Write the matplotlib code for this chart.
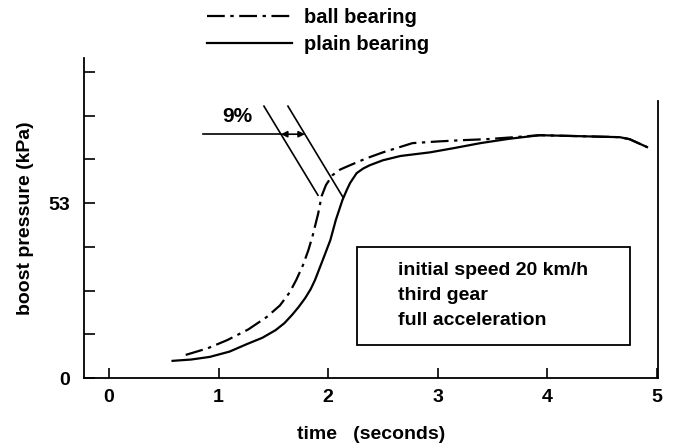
import matplotlib
matplotlib.use("Agg")
import matplotlib.pyplot as plt
from matplotlib.patches import Rectangle

plt.rcParams["font.family"] = ["Liberation Sans", "DejaVu Sans"]
plt.rcParams["font.weight"] = "bold"

# plain bearing (solid)
plain_t = [0.58, 0.75, 0.92, 1.10, 1.26, 1.40, 1.52, 1.60, 1.67, 1.73, 1.79, 1.84, 1.88,
           1.95, 2.02, 2.07, 2.13, 2.17, 2.20, 2.26, 2.32, 2.38, 2.50, 2.66, 2.93,
           3.15, 3.39, 3.65, 3.93, 4.30, 4.66, 4.75, 4.91]
plain_p = [5.2, 5.6, 6.4, 8.0, 10.3, 12.2, 14.5, 16.6, 19.1, 21.5, 24.2, 26.9, 29.7,
           35.7, 41.8, 47.9, 53.9, 57.0, 59.1, 62.1, 63.5, 64.5, 66.0, 67.3, 68.4,
           69.7, 71.2, 72.5, 73.6, 73.3, 73.0, 72.4, 70.0]

# ball bearing (dash-dot)
ball_t = [0.70, 0.90, 1.08, 1.27, 1.44, 1.56, 1.65, 1.71, 1.77, 1.82, 1.86, 1.91,
          1.94, 1.98, 2.04, 2.11, 2.20, 2.35, 2.50, 2.77, 3.00, 3.23, 3.45, 3.70,
          3.93, 4.30, 4.66, 4.75, 4.91]
ball_p = [7.0, 9.0, 11.5, 14.7, 18.5, 22.0, 26.0, 29.8, 34.2, 38.8, 43.3, 50.0,
          55.1, 58.5, 61.5, 63.2, 64.5, 66.6, 68.4, 71.2, 71.7, 72.1, 72.4, 73.0,
          73.6, 73.3, 73.0, 72.4, 70.0]

x_ticks = [0, 1, 2, 3, 4, 5]
y_ticks = [0, 13.25, 26.5, 39.75, 53, 66.25, 79.5, 92.75]
y_labels = ["0", "", "", "", "53", "", "", ""]
notes = ["initial speed 20 km/h", "third gear", "full acceleration"]

W, H = 677, 448
fig = plt.figure(figsize=(W / 100, H / 100), dpi=100)
ax = fig.add_axes([84 / W, 1 - 378 / H, (658 - 84) / W, (378 - 58) / H])

ball_line, = ax.plot(ball_t, ball_p, color="black", lw=1.6,
                     linestyle=(0, (8, 2.5, 1.5, 2.5)), label="ball bearing")
plain_line, = ax.plot(plain_t, plain_p, color="black", lw=1.6,
                      label="plain bearing")

ax.set_xlim(-0.228, 5.01)
ax.set_ylim(0, 97)

ax.spines["top"].set_visible(False)
ax.spines["right"].set_bounds(0, 84)
for s in ["left", "bottom", "right"]:
    ax.spines[s].set_linewidth(1.3)

ax.set_xticks(x_ticks)
ax.set_xticklabels([str(v) for v in x_ticks], fontsize=14, fontweight="bold")
ax.set_yticks(y_ticks)
ax.set_yticklabels(y_labels, fontsize=14, fontweight="bold")
ax.tick_params(axis="x", direction="in", length=7, width=1.2, pad=8)
ax.tick_params(axis="y", direction="in", length=8, width=1.2, pad=10)

ax.set_xlabel("time   (seconds)", fontsize=14, fontweight="bold", labelpad=14)
ax.set_ylabel("boost pressure (kPa)", fontsize=14, fontweight="bold", labelpad=10)

# 9% shift marker
ax.plot([1.414, 1.907], [82.4, 55.4], color="black", lw=1.2)
ax.plot([1.633, 2.135], [82.4, 54.8], color="black", lw=1.2)
ax.plot([0.858, 1.569], [73.9, 73.9], color="black", lw=1.2)
ax.annotate("", xy=(1.788, 73.9), xytext=(1.569, 73.9),
            arrowprops=dict(arrowstyle="<|-|>", color="black", lw=1.2,
                            mutation_scale=9, shrinkA=0, shrinkB=0))
ax.text(1.17, 76.5, "9%", fontsize=15, fontweight="bold", ha="center", va="bottom")

# condition box
ax.add_patch(Rectangle((2.263, 10.0), 4.754 - 2.263, 39.7 - 10.0, fill=False,
                       edgecolor="black", lw=1.3))
for i, line in enumerate(notes):
    ax.text(2.637, 32.5 - i * 7.6, line, fontsize=14, fontweight="bold",
            ha="left", va="center")

fig.legend(handles=[ball_line, plain_line], loc="upper left",
           bbox_to_anchor=(207 / W, 1 - 8 / H), frameon=False,
           handlelength=4.2, handletextpad=0.6, borderpad=0, borderaxespad=0,
           labelspacing=0.42, prop={"weight": "bold", "size": 14.5})

fig.savefig("out.png", dpi=100)
